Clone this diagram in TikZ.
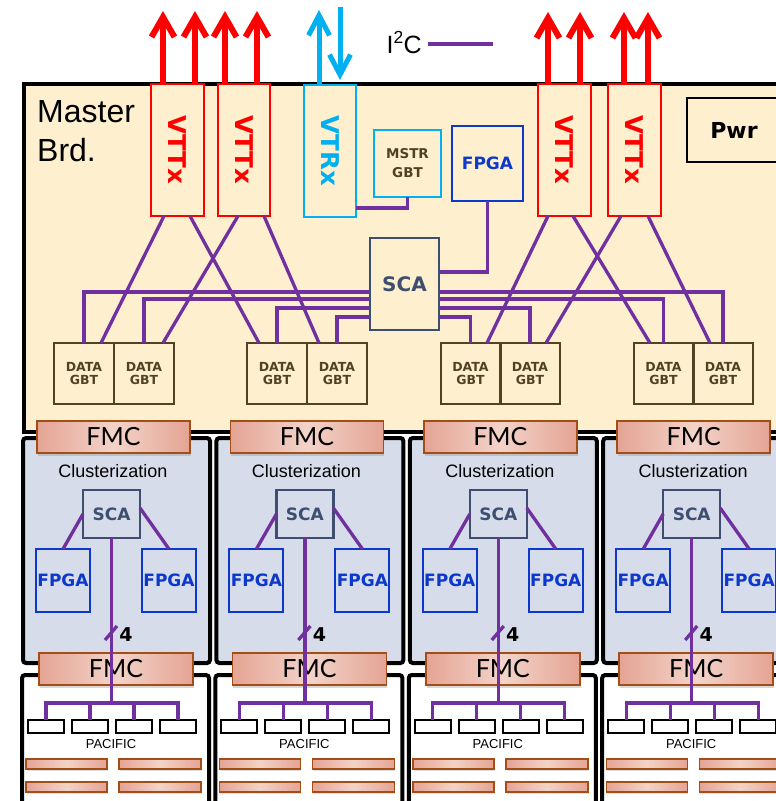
\documentclass[tikz,border=0pt]{standalone}
\usepackage{fontspec}
\setmainfont{Liberation Sans}
\newfontfamily\gill{Lato}
\newfontfamily\bsans{DejaVu Sans}
\usetikzlibrary{arrows.meta,shadows}
\definecolor{cream}{RGB}{254,240,207}
\definecolor{wirec}{RGB}{112,48,160}
\definecolor{vred}{RGB}{255,0,0}
\definecolor{vcyan}{RGB}{0,176,240}
\definecolor{fblue}{RGB}{12,56,204}
\definecolor{scac}{RGB}{62,78,112}
\definecolor{gbtc}{RGB}{82,66,36}
\definecolor{clus}{RGB}{214,220,234}
\definecolor{fmcdark}{RGB}{228,164,148}
\definecolor{fmclight}{RGB}{243,211,201}
\definecolor{fmcline}{RGB}{163,78,22}
\tikzset{
  blk/.style={draw, rectangle, inner sep=0pt, outer sep=0pt},
  wire/.style={draw=wirec, line width=3.3pt},
  vttxbox/.style={blk, draw=vred, line width=2pt, fill=cream, minimum width=53pt, minimum height=132pt, text=vred, font=\bsans\bfseries\fontsize{24.5}{25}\selectfont},
  vtrxbox/.style={vttxbox, draw=vcyan, text=vcyan},
  gbtbox/.style={blk, draw=gbtc, line width=2pt, minimum width=60pt, minimum height=61pt, text=gbtc, align=center, font=\bsans\bfseries\fontsize{12.5}{13}\selectfont},
  fpgabox/.style={blk, draw=fblue, line width=2pt, text=fblue, font=\bsans\bfseries\fontsize{17}{17}\selectfont},
  scabox/.style={blk, draw=scac, line width=2.2pt, text=scac, font=\bsans\bfseries\fontsize{20}{20}\selectfont},
  fmcbox/.style={blk, draw=fmcline, line width=1.6pt, left color=fmcdark, right color=fmcdark, middle color=fmclight, drop shadow={opacity=0.3, shadow xshift=1pt, shadow yshift=-3pt}, minimum width=153pt, minimum height=32pt, font=\gill\fontsize{25}{25}\selectfont},
  barbox/.style={blk, draw=fmcline, line width=1.4pt, left color=fmcdark, right color=fmcdark, middle color=fmclight, drop shadow={opacity=0.25, shadow xshift=1pt, shadow yshift=-2pt}, minimum height=10pt},
  pacbox/.style={blk, draw=black, line width=2pt, fill=white, minimum width=36pt, minimum height=13pt},
  redarrow/.style={draw=vred, line width=6pt, -{Straight Barb[length=20pt, width=23pt]}},
  cyanarrow/.style={draw=vcyan, line width=5pt, -{Straight Barb[length=20pt, width=21pt]}},
}
\begin{document}
\begin{tikzpicture}[x=1pt,y=-1pt]
\useasboundingbox (0,0) rectangle (776,801);
\clip (0,0) rectangle (776,801);
% master board
\node[blk, draw=black, line width=3.5pt, fill=cream, minimum width=776pt, minimum height=348pt] (mb) at (412,258) {};
\node[anchor=north west, inner sep=0pt, align=left, font=\fontsize{32}{39}\selectfont] (mbl) at (37,100) {Master\\Brd.};
% transceivers
\node[vttxbox] (v1) at (177.5,150) {\rotatebox{-90}{VTTx}};
\node[vttxbox, minimum width=52pt] (v2) at (244,150) {\rotatebox{-90}{VTTx}};
\node[vtrxbox, minimum width=52pt] (vtrx) at (330,151) {\rotatebox{-90}{VTRx}};
\node[vttxbox] (v3) at (564.5,150) {\rotatebox{-90}{VTTx}};
\node[vttxbox] (v4) at (634.5,150) {\rotatebox{-90}{VTTx}};
% other master-board blocks
\node[blk, draw=vcyan, line width=2pt, minimum width=67pt, minimum height=67pt, text=gbtc, align=center, font=\bsans\bfseries\fontsize{13.5}{19}\selectfont] (mstr) at (407.5,163.5) {MSTR\\GBT};
\node[fpgabox, line width=2.5pt, minimum width=71pt, minimum height=75pt] (fpgaM) at (487.5,163.5) {FPGA};
\node[scabox, minimum width=69pt, minimum height=92pt] (scaM) at (404.5,284) {SCA};
\node[blk, draw=black, line width=2.5pt, minimum width=94pt, minimum height=64pt, font=\bsans\bfseries\fontsize{22}{22}\selectfont] (pwr) at (734,130) {Pwr};
% data GBTs
\node[gbtbox] (g1) at (84,373.5) {DATA\\GBT};
\node[gbtbox] (g2) at (144,373.5) {DATA\\GBT};
\node[gbtbox] (g3) at (277,373.5) {DATA\\GBT};
\node[gbtbox] (g4) at (337,373.5) {DATA\\GBT};
\node[gbtbox] (g5) at (470.5,373.5) {DATA\\GBT};
\node[gbtbox] (g6) at (530,373.5) {DATA\\GBT};
\node[gbtbox] (g7) at (663.5,373.5) {DATA\\GBT};
\node[gbtbox] (g8) at (723,373.5) {DATA\\GBT};
% I2C wires on master board
\draw[wire] (vtrx.east |- 0,208) -| (mstr.south);
\draw[wire] (fpgaM.south) |- (scaM.east |- 0,272);
\draw[wire] (scaM.west |- 0,292) -| (g1.north);
\draw[wire] (scaM.west |- 0,299) -| (g2.north);
\draw[wire] (scaM.west |- 0,308) -| (g3.north);
\draw[wire] (scaM.west |- 0,317) -| (g4.north);
\draw[wire] (scaM.east |- 0,292) -| (g8.north);
\draw[wire] (scaM.east |- 0,299) -| (g7.north);
\draw[wire] (scaM.east |- 0,308) -| (g6.north);
\draw[wire] (scaM.east |- 0,317) -| (g5.north);
% VTTx to data GBT links
\draw[wire] ([xshift=-13.5]v1.south) -- ([xshift=17]g1.north);
\draw[wire] ([xshift=12.5]v1.south) -- ([xshift=-18]g3.north);
\draw[wire] ([xshift=-6]v2.south) -- ([xshift=19]g2.north);
\draw[wire] ([xshift=20]v2.south) -- ([xshift=-18]g4.north);
\draw[wire] ([xshift=-16.5]v3.south) -- ([xshift=16.5]g5.north);
\draw[wire] ([xshift=8.5]v3.south) -- ([xshift=-13.5]g7.north);
\draw[wire] ([xshift=-13.5]v4.south) -- ([xshift=16]g6.north);
\draw[wire] ([xshift=13.5]v4.south) -- ([xshift=-13]g8.north);
% output arrows
\coordinate (t1) at (163,11);
\coordinate (t2) at (195,11);
\coordinate (t3) at (225,11);
\coordinate (t4) at (257,11);
\coordinate (t5) at (548,12);
\coordinate (t6) at (580,12);
\coordinate (t7) at (624,12);
\coordinate (t8) at (648,12);
\draw[redarrow] (v1.north -| t1) -- (t1);
\draw[redarrow] (v1.north -| t2) -- (t2);
\draw[redarrow] (v2.north -| t3) -- (t3);
\draw[redarrow] (v2.north -| t4) -- (t4);
\draw[redarrow] (v3.north -| t5) -- (t5);
\draw[redarrow] (v3.north -| t6) -- (t6);
\draw[redarrow] (v4.north -| t7) -- (t7);
\draw[redarrow] (v4.north -| t8) -- (t8);
\coordinate (c1) at (319,10);
\coordinate (c2) at (340,7);
\draw[cyanarrow] (vtrx.north -| c1) -- (c1);
\draw[cyanarrow, shorten >=5pt] (c2) -- (vtrx.north -| c2);
% legend
\node[anchor=base east, inner sep=0pt, font=\fontsize{25}{25}\selectfont] (i2c) at (422,53) {I\textsuperscript{2}C};
\coordinate (i2ca) at (428,44);
\coordinate (i2cb) at (493,44);
\draw[wire] (i2ca) -- (i2cb);
% clusterization boards
\foreach \i in {0,1,2,3}{
\begin{scope}[xshift=193.4*\i]
 \node[blk, draw=black, line width=4pt, fill=clus, rounded corners=3pt, minimum width=187pt, minimum height=225pt] (cb\i) at (116.5,550.5) {};
 \node[blk, draw=black, line width=4pt, fill=white, rounded corners=3pt, minimum width=187pt, minimum height=170pt] (bb\i) at (115.5,760) {};
 \node[fmcbox] (fa\i) at (113.5,437) {FMC};
 \node[inner sep=0pt, font=\fontsize{18}{18}\selectfont] (cl\i) at (113,471) {Clusterization};
 \node[scabox, minimum width=57pt, minimum height=48pt, font=\bsans\bfseries\fontsize{17}{17}\selectfont] (cs\i) at (111.5,514) {SCA};
 \node[fpgabox, minimum width=54pt, minimum height=63pt] (cfl\i) at (63,580.5) {FPGA};
 \node[fpgabox, minimum width=54pt, minimum height=63pt] (cfr\i) at (169,580.5) {FPGA};
 \draw[wire] (cs\i.west) -- (cfl\i.north);
 \draw[wire] ([yshift=6]cs\i.east) -- (cfr\i.north);
 \node[fmcbox, minimum width=154pt] (fb\i) at (116,669) {FMC};
 \node[pacbox] (pa\i) at (46,726.5) {};
 \node[pacbox] (pb\i) at (90,726.5) {};
 \node[pacbox] (pc\i) at (134,726.5) {};
 \node[pacbox] (pd\i) at (178,726.5) {};
 \draw[wire] (cs\i.south) -- (cs\i.south |- 0,703);
 \draw[wire] (pa\i.north) -- (pa\i.north |- 0,703) -- (pd\i.north |- 0,703) -- (pd\i.north);
 \draw[wire] (pb\i.north) -- (pb\i.north |- 0,703);
 \draw[wire] (pc\i.north) -- (pc\i.north |- 0,703);
 \node[inner sep=0pt, font=\fontsize{13}{13}\selectfont] (pl\i) at (111,744) {PACIFIC};
 \node[barbox, minimum width=81pt] (ba\i) at (66.5,764) {};
 \node[barbox, minimum width=82pt] (bc\i) at (160,764) {};
 \node[barbox, minimum width=81pt] (bd\i) at (66.5,787) {};
 \node[barbox, minimum width=82pt] (be\i) at (160,787) {};
 \draw[wire] (105,640) -- (117,626);
 \node[inner sep=0pt, font=\bsans\bfseries\fontsize{19}{19}\selectfont] (n\i) at (126,635) {4};
\end{scope}
}
\end{tikzpicture}
\end{document}
